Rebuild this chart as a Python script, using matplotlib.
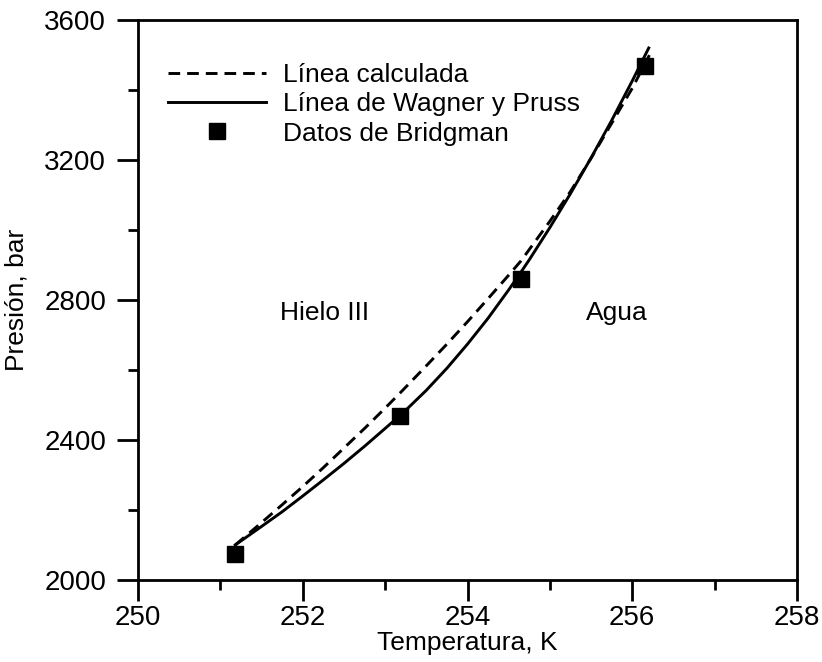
import matplotlib
matplotlib.use("Agg")
from matplotlib import pyplot as plt
from matplotlib.ticker import MultipleLocator

plt.rcParams['font.family'] = ['Liberation Sans', 'DejaVu Sans']

# Data
calc_T = [251.18, 251.5, 251.75, 252.0, 252.25, 252.5, 252.75, 253.0, 253.18, 253.25, 253.5,
          253.75, 254.0, 254.25, 254.5, 254.65, 255.0, 255.25, 255.5, 255.75, 256.0, 256.22]
calc_P = [2100, 2164, 2215, 2267, 2321, 2377, 2433, 2491, 2534, 2551, 2612,
          2674, 2738, 2804, 2871, 2912, 3025, 3110, 3205, 3305, 3405, 3505]

wp_T = [251.18, 251.5, 251.75, 252.0, 252.25, 252.5, 252.75, 253.0, 253.18, 253.25, 253.5,
        253.75, 254.0, 254.25, 254.5, 254.65, 254.75, 255.0, 255.25, 255.5, 255.75, 256.0, 256.2]
wp_P = [2100, 2153, 2195, 2240, 2286, 2333, 2382, 2433, 2470, 2485, 2542,
        2605, 2674, 2748, 2829, 2880, 2915, 3007, 3104, 3206, 3313, 3426, 3520]

bridg_T = [251.18, 253.18, 254.65, 256.15]
bridg_P = [2074, 2468, 2860, 3469]

FS = 19

# Figure
fig = plt.figure(figsize=(8.22, 6.62), dpi=100)
ax = fig.add_axes([138/822, 1 - 580/662, (797 - 138)/822, (580 - 20)/662])

ax.plot(calc_T, calc_P, color='black', lw=2.1, ls=(0, (4, 2.4)), label='Línea calculada')
ax.plot(wp_T, wp_P, color='black', lw=2.1, label='Línea de Wagner y Pruss')
ax.plot(bridg_T, bridg_P, ls='none', marker='s', color='black', markersize=11.5,
        label='Datos de Bridgman')

ax.text(252.27, 2763, 'Hielo III', fontsize=FS, ha='center', va='center')
ax.text(255.81, 2763, 'Agua', fontsize=FS, ha='center', va='center')

# Axes
ax.set_xlim(250, 258)
ax.set_ylim(2000, 3600)
ax.xaxis.set_major_locator(MultipleLocator(2))
ax.xaxis.set_minor_locator(MultipleLocator(1))
ax.yaxis.set_major_locator(MultipleLocator(400))
ax.yaxis.set_minor_locator(MultipleLocator(200))
ax.tick_params(which='major', direction='out', length=15, width=2, labelsize=20)
ax.tick_params(axis='x', which='major', pad=3)
ax.tick_params(axis='y', which='major', pad=8)
ax.tick_params(which='minor', direction='out', length=7.5, width=2)
for s in ax.spines.values():
    s.set_linewidth(2)

ax.set_xlabel('Temperatura, K', fontsize=FS, labelpad=0)
ax.set_ylabel('Presión, bar', fontsize=FS, labelpad=11)

ax.legend(loc='upper left', bbox_to_anchor=(0.0455, 0.923), frameon=False, fontsize=FS,
          handlelength=3.7, handletextpad=0.65, labelspacing=0.2, borderpad=0,
          borderaxespad=0)

plt.savefig('out.png', dpi=100)
